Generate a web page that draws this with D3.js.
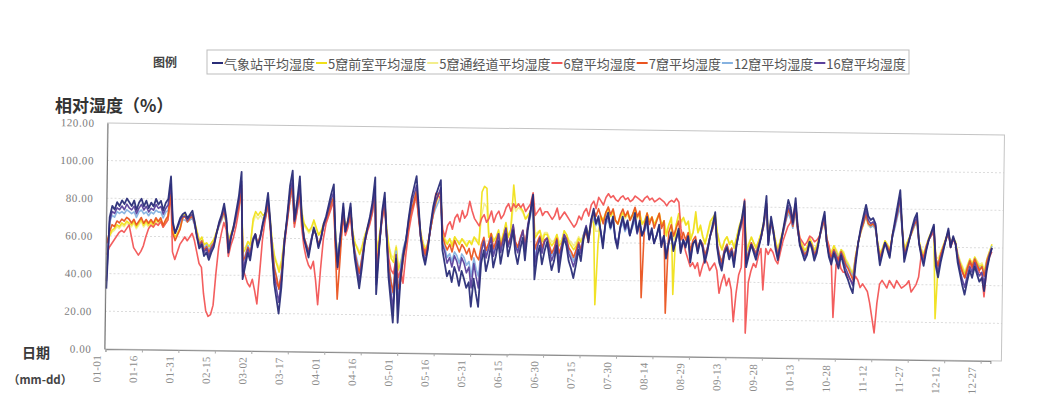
<!DOCTYPE html>
<html>
<head>
<meta charset="utf-8">
<script src="https://cdn.jsdelivr.net/npm/d3@7"></script>
<style>
  html, body { margin: 0; padding: 0; background: #fff; }
  svg { display: block; }
</style>
</head>
<body>
<svg id="chart" width="1050" height="412"></svg>
<script>
// Daily mean relative humidity (%), one row per month, Jan..Dec (365 days)
const station = [
  32,70,76,74,78,76,79,77,80,78,76,79,74,78,80,76,79,75,78,76,80,77,79,74,78,80,92,68,62,66,70,
  72,73,70,72,74,68,60,54,56,50,52,48,52,55,62,68,72,78,70,52,60,66,74,82,95,38,45,52,
  48,58,62,55,60,68,74,84,70,52,36,28,20,34,58,72,88,96,70,80,93,72,60,55,50,58,66,62,55,60,68,
  72,78,84,89,60,45,62,79,64,70,79,62,50,42,34,45,58,66,72,80,93,31,55,75,85,62,40,28,16,50,
  16,40,52,60,72,82,88,94,78,62,52,47,55,68,78,84,88,92,55,48,41,44,38,46,42,36,44,40,35,38,25,
  40,32,25,48,55,44,50,58,46,52,60,48,56,64,52,58,66,54,48,56,62,50,66,76,85,40,52,58,48,55,
  60,52,45,50,58,44,54,62,58,50,46,41,48,56,50,62,68,60,72,78,70,74,66,57,72,76,68,74,62,57,68,
  74,68,72,64,70,76,66,72,64,68,74,62,68,60,64,70,58,64,52,60,66,56,62,68,55,62,58,64,50,60,62,
  55,62,58,50,56,64,70,77,58,50,46,55,58,52,56,48,60,68,74,83,48,54,60,56,52,58,64,72,86,60,
  75,68,58,52,60,68,76,84,80,72,85,70,60,56,52,55,62,58,52,56,64,72,78,62,54,50,56,52,48,55,50,
  45,42,38,35,50,62,70,76,82,76,74,75,72,60,50,56,62,58,54,66,74,82,90,70,52,58,64,70,75,78,
  62,55,50,58,64,68,72,50,44,52,58,64,70,60,66,62,52,46,40,35,42,48,44,50,46,42,44,37,48,55,60
];

const cave5Front = [
  58,60,63,64,66,65,67,66,68,67,66,68,65,67,69,66,68,66,68,66,69,68,69,66,68,70,85,63,60,62,65,
  71,72,70,71,72,68,63,58,60,56,57,55,57,59,63,67,70,73,68,58,62,66,71,76,86,52,54,58,
  56,70,74,72,74,72,73,80,70,58,50,46,42,48,60,70,82,88,70,78,86,74,68,66,64,66,70,66,62,64,68,
  70,74,78,82,62,50,58,76,66,70,76,64,58,55,52,56,62,66,70,76,86,52,62,72,80,66,56,50,48,56,
  44,48,54,60,68,76,80,86,74,64,58,55,58,66,74,80,84,86,64,60,58,61,57,62,60,58,61,59,57,60,58,
  62,60,58,86,89,88,62,64,60,62,66,58,64,70,62,66,90,78,80,78,76,72,74,76,84,62,64,66,60,64,
  64,60,58,60,64,58,60,66,64,60,58,56,58,62,60,64,68,64,70,74,27,60,74,72,76,78,74,77,72,70,74,
  76,74,76,73,75,78,74,76,70,72,76,72,74,70,73,76,70,72,64,70,74,33,70,76,72,74,70,72,62,66,77,
  66,70,64,60,66,72,74,76,66,60,57,62,64,60,62,58,64,70,74,82,56,60,64,61,58,62,66,72,82,64,
  72,68,62,57,63,68,74,80,77,71,80,70,63,60,57,59,64,61,57,60,65,70,75,64,58,56,60,57,54,58,56,
  52,50,47,45,55,62,68,72,77,72,71,72,70,62,56,59,63,61,58,66,72,78,86,70,58,62,65,68,72,74,
  63,58,56,61,65,68,70,22,52,57,61,65,68,62,65,63,56,52,49,46,50,54,51,55,52,50,51,47,54,58,62
];

const cave5Passage = [
  57,60,62,63,65,64,66,65,67,66,65,67,64,66,68,65,67,65,67,65,68,67,68,65,67,69,82,64,60,62,64,
  70,71,69,70,71,67,63,58,60,56,57,55,57,59,62,66,69,72,67,58,62,65,70,75,84,54,55,58,
  57,68,72,70,72,70,71,78,69,58,51,47,44,49,60,69,80,86,69,76,84,72,67,65,63,65,69,65,62,64,67,
  69,73,77,80,62,52,58,74,66,69,75,64,58,56,53,57,62,66,69,75,84,54,62,71,78,65,57,52,50,57,
  46,49,55,60,67,75,79,84,73,64,59,56,59,66,73,79,82,84,64,61,59,61,58,62,60,59,61,60,58,60,59,
  62,61,60,74,80,78,64,64,61,62,65,60,64,68,63,66,80,76,78,77,75,72,73,75,82,64,65,66,62,65,
  65,62,60,61,64,60,61,66,64,61,60,58,60,63,61,64,67,64,69,73,66,66,73,72,75,77,74,76,72,70,73,
  75,73,75,72,74,77,73,75,71,72,75,72,73,70,72,75,70,72,66,70,73,62,70,74,71,73,70,71,64,66,74,
  66,69,64,61,65,70,72,74,66,61,58,62,64,61,62,59,64,69,73,80,58,61,64,61,59,62,66,71,80,64,
  71,68,62,58,63,67,73,78,76,70,78,69,63,60,58,59,64,61,58,60,65,69,74,64,59,57,60,58,55,58,57,
  53,51,48,46,55,62,67,71,76,71,70,71,69,62,57,59,63,61,58,65,71,77,84,69,59,62,65,67,71,73,
  63,59,57,61,65,67,69,55,54,58,61,64,67,62,65,63,57,53,50,47,51,54,52,55,53,51,52,48,54,58,61
];

const cave6 = [
  50,54,56,58,60,62,63,62,64,66,60,54,52,50,52,55,60,64,66,65,67,66,68,65,67,69,84,52,48,52,56,
  58,60,58,60,62,58,52,46,44,30,21,18,19,24,41,55,62,68,64,50,56,60,66,74,86,44,40,36,
  34,38,32,25,42,60,70,78,66,50,40,36,34,40,56,68,80,88,66,74,84,66,56,50,46,44,48,38,25,44,60,
  68,72,76,80,56,44,56,72,62,66,72,60,52,46,42,48,58,64,68,74,84,46,58,70,78,62,50,44,42,50,
  40,44,37,52,64,72,78,84,72,62,56,54,58,66,74,85,84,82,66,62,68,70,66,72,74,70,76,72,74,81,76,
  72,70,68,72,74,70,72,76,70,74,76,72,74,78,80,76,80,78,80,78,80,76,78,80,86,74,76,78,74,76,
  76,74,72,74,78,72,74,76,74,72,70,68,70,74,72,76,78,74,80,82,78,84,82,80,84,86,84,85,83,82,84,
  85,83,84,82,83,85,84,83,82,84,85,83,84,82,83,84,83,82,80,82,83,82,84,82,68,62,56,52,48,50,47,
  50,43,48,52,50,46,48,50,46,34,40,44,38,42,36,19,34,44,48,84,13,40,46,50,48,54,58,36,58,55,
  58,56,52,50,56,62,66,70,72,76,82,70,64,62,60,62,65,64,62,63,65,70,74,64,60,52,22,50,54,48,46,
  46,44,42,40,44,42,38,40,38,36,30,22,14,30,40,42,40,38,42,40,38,42,40,38,39,40,42,36,38,40,
  44,56,55,60,64,66,68,52,50,56,60,64,68,60,64,62,55,50,47,44,48,52,49,53,50,47,46,34,50,55,58
];

const cave7 = [
  56,62,66,65,68,67,69,68,70,69,67,69,66,68,70,67,69,67,69,67,70,68,70,66,69,71,86,62,58,61,64,
  70,71,68,70,71,67,61,56,58,53,55,52,55,57,62,67,70,74,68,55,61,65,71,77,88,48,50,55,
  52,59,62,57,61,67,71,79,68,55,44,39,33,41,59,70,82,88,68,76,86,70,61,57,53,59,65,62,57,61,67,
  70,74,79,82,55,28,50,75,64,68,75,62,53,47,42,50,59,65,70,76,86,40,57,72,80,62,46,38,32,52,
  34,38,50,58,68,76,80,86,74,62,56,52,57,66,74,80,85,85,62,58,55,58,54,60,57,54,58,56,53,56,50,
  56,52,50,58,62,55,59,64,56,60,64,57,62,67,58,62,68,60,57,62,66,58,68,76,84,56,60,63,57,61,
  62,58,54,57,62,54,58,64,62,57,55,52,56,60,56,62,66,60,70,77,74,78,74,70,76,79,75,78,72,70,75,
  78,74,77,72,75,79,74,77,31,70,76,70,74,68,72,76,68,72,23,66,70,64,68,72,62,66,62,66,56,62,64,
  57,62,60,54,58,64,68,74,60,54,50,57,60,55,58,52,61,67,71,80,52,56,61,58,55,60,64,70,82,62,
  72,67,60,55,61,67,73,79,76,70,80,68,61,58,55,57,62,60,55,58,64,70,74,62,56,54,58,55,52,57,54,
  50,48,45,42,54,62,68,72,77,72,71,72,70,61,54,58,62,60,57,66,72,78,86,69,56,60,64,68,72,74,
  62,57,54,60,64,67,70,54,50,56,60,64,68,61,65,62,55,51,47,44,49,53,50,54,51,48,50,45,53,57,60
];

const cave12 = [
  41,67,71,70,73,72,73,72,74,73,72,73,70,73,74,72,73,71,73,72,74,73,73,70,73,74,83,66,62,65,68,
  69,69,68,69,70,66,61,57,58,54,56,53,56,57,62,66,69,73,68,56,61,65,70,76,85,46,51,56,
  53,60,62,57,61,66,70,77,68,56,45,39,33,43,60,69,80,85,68,74,83,69,61,57,54,60,65,62,57,61,66,
  69,73,77,81,61,51,62,74,64,68,74,62,54,49,43,51,60,65,69,74,83,41,57,71,78,62,47,39,31,54,
  31,47,56,61,69,76,80,84,73,62,56,52,57,66,73,77,80,83,59,56,51,53,49,54,52,48,53,51,47,49,41,
  51,45,41,56,61,53,57,62,54,58,64,56,61,66,58,62,68,59,56,61,65,57,68,73,80,50,58,62,56,61,
  62,57,53,56,61,52,58,64,61,56,53,50,54,60,56,64,68,62,70,73,69,71,66,60,70,72,67,71,63,60,67,
  71,66,69,64,68,72,65,69,64,66,70,62,66,61,64,68,60,64,56,61,65,58,62,66,57,62,60,64,54,61,62,
  57,62,60,54,58,64,68,73,60,54,51,57,60,56,58,53,61,66,70,77,53,57,61,58,56,60,64,70,78,61,
  71,66,60,56,61,66,72,77,74,69,78,68,61,58,56,57,62,60,56,58,64,69,73,62,57,54,58,56,53,57,54,
  51,49,46,44,54,62,68,72,76,72,70,71,69,61,54,58,62,60,57,65,70,76,81,68,56,60,64,68,71,73,
  62,57,54,60,64,66,69,54,50,56,60,64,68,61,65,62,56,51,47,44,49,53,50,54,51,49,50,45,53,57,61
];

const cave16 = [
  36,68,73,72,75,74,76,74,77,75,74,76,72,75,77,74,76,73,75,74,77,75,76,72,75,77,88,67,62,65,69,
  71,71,69,71,72,67,60,55,57,52,54,50,54,56,62,67,71,76,69,54,60,65,72,79,90,42,48,54,
  50,59,62,56,60,67,72,81,69,54,40,33,26,38,59,71,84,91,69,77,88,71,60,56,52,59,65,62,56,60,67,
  71,76,81,85,60,48,62,77,64,69,77,62,52,45,38,48,59,65,71,77,88,36,56,73,82,62,43,33,23,52,
  23,43,54,60,71,79,84,89,76,62,54,49,56,67,76,81,84,88,58,54,48,51,46,52,49,44,51,48,43,46,35,
  48,41,35,54,60,51,56,62,52,57,64,54,61,67,57,62,69,58,54,61,66,55,69,76,84,47,57,62,54,60,
  62,56,50,54,61,49,57,64,61,54,51,47,52,59,54,64,69,62,72,76,70,73,66,59,71,74,68,73,63,59,68,
  73,67,71,64,69,74,65,71,64,67,72,62,67,60,64,69,59,64,54,60,65,57,62,67,56,62,59,64,52,60,62,
  56,62,59,52,57,64,69,75,59,52,48,56,59,54,57,50,60,67,72,80,50,55,60,57,54,59,64,71,82,60,
  73,67,59,54,60,67,74,81,77,71,82,69,60,57,54,56,62,59,54,57,64,71,76,62,55,52,57,54,50,56,52,
  48,45,42,39,52,62,69,74,79,74,72,73,71,60,52,57,62,59,55,65,72,79,86,69,54,59,64,69,73,76,
  62,56,52,59,64,67,71,52,47,54,59,64,69,60,65,62,54,48,43,39,45,50,47,52,48,45,47,41,50,56,60
];

const seriesNames = [
  "气象站平均湿度", "5窟前室平均湿度", "5窟通经道平均湿度", "6窟平均湿度",
  "7窟平均湿度", "12窟平均湿度", "16窟平均湿度"
];
const seriesColors = ["#2a2d78", "#f0e01a", "#f3ee8c", "#f25555", "#ea5420", "#86b2e0", "#5a409c"];
const seriesValues = [station, cave5Front, cave5Passage, cave6, cave7, cave12, cave16];
// back-to-front drawing order (station drawn last, on top)
const drawOrder = [2, 1, 5, 3, 4, 6, 0];

const yTicks = [0, 20, 40, 60, 80, 100, 120];
const tickLabels = ["01-01","01-16","01-31","02-15","03-02","03-17","04-01","04-16","05-01",
  "05-16","05-31","06-15","06-30","07-15","07-30","08-14","08-29","09-13","09-28","10-13",
  "10-28","11-12","11-27","12-12","12-27"];

// one category per day of a 365-day year
const fmt = d3.timeFormat("%m-%d");
const categories = d3.timeDay.range(new Date(2011, 0, 1), new Date(2012, 0, 1)).map(fmt);

const svg = d3.select("#chart");
const plot = { left: 106, right: 1003, top: 129, bottom: 355 };

const x = d3.scalePoint().domain(categories).range([107, 992]);
const y = d3.scaleLinear().domain([0, 120]).range([plot.bottom, plot.top]);

// the chart body sits at a slight clockwise tilt
const body = svg.append("g").attr("transform", "rotate(0.78, 555, 240)");

// gridlines
body.append("g")
  .selectAll("line")
  .data(yTicks.filter(v => v > 0 && v < 120))
  .join("line")
  .attr("x1", plot.left).attr("x2", plot.right)
  .attr("y1", d => y(d)).attr("y2", d => y(d))
  .attr("stroke", "#dcdcdc")
  .attr("stroke-dasharray", "2,2")
  .attr("stroke-width", 1);

// plot frame
body.append("rect")
  .attr("x", plot.left).attr("y", plot.top)
  .attr("width", plot.right - plot.left).attr("height", plot.bottom - plot.top)
  .attr("fill", "none").attr("stroke", "#c4c4c4").attr("stroke-width", 1);

// series lines
const line = d3.line()
  .x((d, i) => x(categories[i]))
  .y(d => y(d));

body.append("g")
  .selectAll("path")
  .data(drawOrder)
  .join("path")
  .attr("d", k => line(seriesValues[k]))
  .attr("fill", "none")
  .attr("stroke", k => seriesColors[k])
  .attr("stroke-width", k => (k === 0 ? 1.8 : 1.6))
  .attr("stroke-linejoin", "round")
  .attr("opacity", 0.95);

// y axis
const yAxis = body.append("g")
  .attr("transform", `translate(${plot.left},0)`)
  .call(d3.axisLeft(y).tickValues(yTicks).tickFormat(d3.format(".2f")).tickSize(0).tickPadding(13));
yAxis.attr("font-family", null);
yAxis.select(".domain").attr("stroke", "#777");
yAxis.selectAll("text")
  .attr("fill", "#7a7a7a")
  .style("font-family", "'Liberation Serif', 'DejaVu Serif', serif")
  .style("font-size", "11px")
  .style("letter-spacing", "0.6px");

// x axis
const xAxis = body.append("g")
  .attr("transform", `translate(0,${plot.bottom})`)
  .call(d3.axisBottom(x).tickValues(tickLabels).tickSize(3).tickPadding(6));
xAxis.attr("font-family", null);
xAxis.select(".domain").attr("stroke", "#8a8a8a");
xAxis.selectAll(".tick line").attr("stroke", "#aaa");
xAxis.selectAll("text")
  .attr("fill", "#8c8c8c")
  .style("font-family", "'Liberation Serif', 'DejaVu Serif', serif")
  .style("font-size", "11px")
  .style("letter-spacing", "0.4px")
  .attr("text-anchor", "end")
  .attr("dy", "0.35em")
  .attr("transform", "rotate(-90) translate(-6,-9)")
  .attr("x", 0).attr("y", 0);

// titles
svg.append("text")
  .attr("x", 55).attr("y", 104)
  .attr("dominant-baseline", "central")
  .style("font-family", "'Noto Sans CJK SC', sans-serif")
  .style("font-size", "17px").style("font-weight", "bold")
  .attr("fill", "#333")
  .text("相对湿度（%）");

svg.append("text")
  .attr("x", 22).attr("y", 352)
  .attr("dominant-baseline", "central")
  .style("font-family", "'Noto Sans CJK SC', sans-serif")
  .style("font-size", "14px").style("font-weight", "bold")
  .attr("fill", "#3a3a3a")
  .text("日期");

svg.append("text")
  .attr("x", 8).attr("y", 379)
  .attr("dominant-baseline", "central")
  .style("font-family", "'Noto Sans CJK SC', sans-serif")
  .style("font-size", "11.5px").style("font-weight", "bold")
  .attr("fill", "#444")
  .text("（mm-dd）");

// legend
svg.append("text")
  .attr("x", 153).attr("y", 61)
  .attr("dominant-baseline", "central")
  .style("font-family", "'Noto Sans CJK SC', sans-serif")
  .style("font-size", "12px").style("font-weight", "bold")
  .attr("fill", "#444")
  .text("图例");

const legend = svg.append("g");
legend.append("rect")
  .attr("x", 207).attr("y", 50).attr("width", 702).attr("height", 24)
  .attr("fill", "#fff").attr("stroke", "#bdbdbd").attr("stroke-width", 1);

let lx = 212;
const ly = 63;
seriesNames.forEach((name, i) => {
  legend.append("line")
    .attr("x1", lx).attr("x2", lx + 11)
    .attr("y1", ly).attr("y2", ly)
    .attr("stroke", seriesColors[i]).attr("stroke-width", 2);
  const t = legend.append("text")
    .attr("x", lx + 12).attr("y", ly)
    .attr("dominant-baseline", "central")
    .style("font-family", "'Noto Sans CJK SC', sans-serif")
    .style("font-size", "13px")
    .attr("fill", "#555")
    .text(name);
  lx += 12 + t.node().getComputedTextLength() + 1;
});
</script>
</body>
</html>
